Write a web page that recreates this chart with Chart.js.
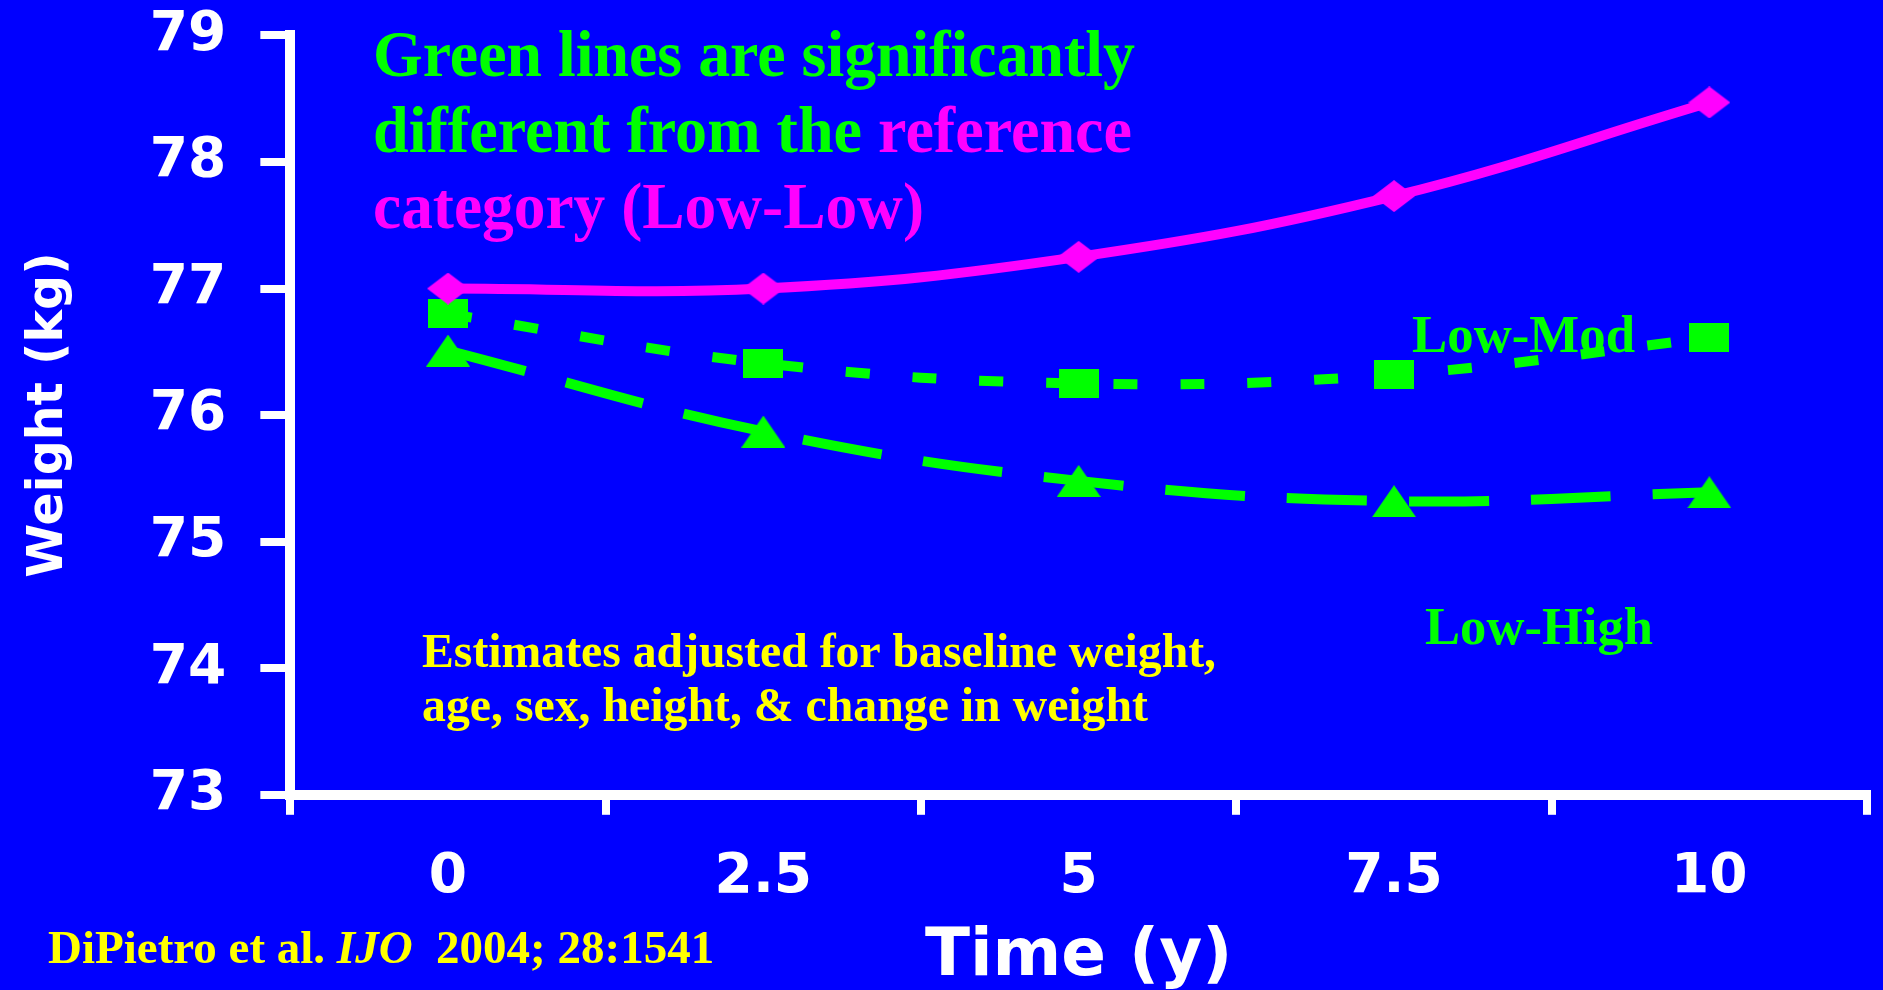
<!DOCTYPE html>
<html>
<head>
<meta charset="utf-8">
<script src="https://cdn.jsdelivr.net/npm/chart.js@4/dist/chart.umd.min.js"></script>
<style>
  html, body { margin: 0; padding: 0; background: #0000ff; overflow: hidden; }
  canvas { display: block; }
</style>
</head>
<body>
<canvas id="weightChart" width="1883" height="990"></canvas>
<script>
// values
const timeLabels = ['0', '2.5', '5', '7.5', '10'];
const lowLow = [77.00, 77.00, 77.25, 77.73, 78.47];
const lowMod = [76.80, 76.41, 76.25, 76.32, 76.61];
const lowHigh = [76.51, 75.87, 75.48, 75.32, 75.39];
const yMin = 73, yMax = 79, yStep = 1;

const BLUE = '#0000ff', GREEN = '#00ff00', MAGENTA = '#ff00ff', YELLOW = '#ffff00', WHITE = '#ffffff';
const SERIF = '"Liberation Serif", "Times New Roman", serif';
const SANS = '"DejaVu Sans", Arial, sans-serif';

// slightly wide markers like the original slide
function makeMarker(kind, w, h, color){
    const c = document.createElement('canvas');
    c.width = w; c.height = h;
    const g = c.getContext('2d');
    g.fillStyle = color;
    g.beginPath();
    if(kind === 'diamond'){
        g.moveTo(w/2, 0); g.lineTo(w, h/2); g.lineTo(w/2, h); g.lineTo(0, h/2);
    }else if(kind === 'triangle'){
        g.moveTo(w/2, 0); g.lineTo(w, h); g.lineTo(0, h);
    }else{
        g.rect(0, 0, w, h);
    }
    g.closePath();
    g.fill();
    return c;
}

// text blocks drawn on the plot: [text, colour, style] parts
const notes = [
    {size: 66, x: 373, y: 76, width: 762, parts: [['Green lines are significantly', GREEN, 'bold']]},
    {size: 66, x: 373, y: 152, width: 759, parts: [['different from the ', GREEN, 'bold'], ['reference', MAGENTA, 'bold']]},
    {size: 66, x: 373, y: 228, width: 551, parts: [['category (Low-Low)', MAGENTA, 'bold']]},
    {size: 53, x: 1412, y: 352, width: 223, parts: [['Low-Mod', GREEN, 'bold']]},
    {size: 53, x: 1425, y: 644, width: 228, parts: [['Low-High', GREEN, 'bold']]},
    {size: 48, x: 422, y: 667, width: 794, parts: [['Estimates adjusted for baseline weight,', YELLOW, 'bold']]},
    {size: 48, x: 422, y: 721, width: 726, parts: [['age, sex, height, & change in weight', YELLOW, 'bold']]},
    {size: 47, x: 48, y: 963, width: 675, parts: [['DiPietro et al. ', YELLOW, 'bold'], ['IJO', YELLOW, 'italic bold'], ['  2004; 28:1541', YELLOW, 'bold']]}
];

const slidePlugin = {
    id: 'slide',
    beforeDraw(chart){
        const ctx = chart.ctx;
        ctx.save();
        ctx.fillStyle = BLUE;
        ctx.fillRect(0, 0, chart.width, chart.height);
        ctx.restore();
    },
    beforeDatasetsDraw(chart){
        const ctx = chart.ctx;
        notes.forEach(function(n){
            ctx.save();
            let total = 0;
            n.parts.forEach(function(p){
                ctx.font = p[2] + ' ' + n.size + 'px ' + SERIF;
                total += ctx.measureText(p[0]).width;
            });
            const f = Math.min(1, n.width / total);
            ctx.translate(n.x, n.y);
            ctx.scale(f, 1);
            ctx.textBaseline = 'alphabetic';
            ctx.textAlign = 'left';
            let cx = 0;
            n.parts.forEach(function(p){
                ctx.font = p[2] + ' ' + n.size + 'px ' + SERIF;
                ctx.fillStyle = p[1];
                ctx.fillText(p[0], cx, 0);
                cx += ctx.measureText(p[0]).width;
            });
            ctx.restore();
        });
    }
};

const ctx = document.getElementById('weightChart').getContext('2d');
const weightChart = new Chart(ctx, {
    type: 'line',
    data: {
        labels: timeLabels,
        datasets: [
            {
                label: 'Low-Low',
                data: lowLow,
                borderColor: MAGENTA,
                backgroundColor: MAGENTA,
                borderWidth: 10,
                tension: 0.4,
                pointStyle: makeMarker('diamond', 42, 32, MAGENTA),
            },
            {
                label: 'Low-Mod',
                data: lowMod,
                borderColor: GREEN,
                backgroundColor: GREEN,
                borderWidth: 10,
                borderDash: [24, 43],
                tension: 0.4,
                pointStyle: makeMarker('square', 40, 29, GREEN),
            },
            {
                label: 'Low-High',
                data: lowHigh,
                borderColor: GREEN,
                backgroundColor: GREEN,
                borderWidth: 10,
                borderDash: [80, 42],
                tension: 0.4,
                pointStyle: makeMarker('triangle', 44, 32, GREEN),
            }
        ]
    },
    options: {
        responsive: false,
        devicePixelRatio: 1,
        animation: false,
        layout: {
            padding: {left: 0, right: 16, top: 6, bottom: -7}
        },
        plugins: {
            legend: {display: false},
            tooltip: {enabled: false}
        },
        scales: {
            x: {
                type: 'category',
                offset: true,
                border: {color: WHITE, width: 10},
                grid: {offset: true, drawOnChartArea: false, color: WHITE, lineWidth: 8, tickLength: 20},
                ticks: {color: WHITE, padding: 30, font: {family: SANS, weight: 'bold', size: 55}},
                title: {
                    display: true,
                    text: 'Time (y)',
                    color: WHITE,
                    font: {family: SANS, weight: 'bold', size: 66},
                    padding: {top: -23, bottom: 0}
                }
            },
            y: {
                min: yMin,
                max: yMax,
                border: {color: WHITE, width: 10},
                grid: {drawOnChartArea: false, color: WHITE, lineWidth: 8, tickLength: 30},
                ticks: {stepSize: yStep, color: WHITE, padding: 34, font: {family: SANS, weight: 'bold', size: 55, lineHeight: 0.05}},
                title: {
                    display: true,
                    text: 'Weight (kg)',
                    color: WHITE,
                    font: {family: SANS, weight: 'bold', size: 49},
                    padding: {top: 20, bottom: 37}
                }
            }
        }
    },
    plugins: [slidePlugin]
});
</script>
</body>
</html>
